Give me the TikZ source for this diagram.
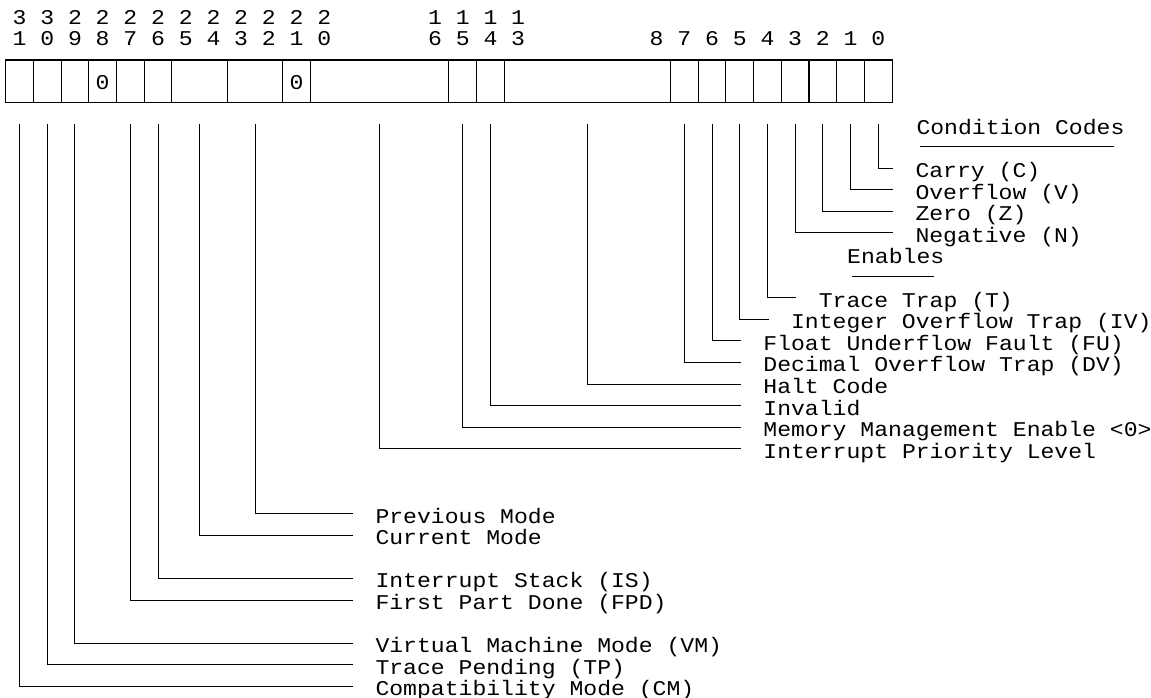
\documentclass[tikz,border=0pt]{standalone}
\usepackage{fontspec}
\setmonofont[FakeStretch=1.1]{Liberation Mono}
\begin{document}
\begin{tikzpicture}[x=1pt,y=-1pt,line width=1pt,
  lbl/.style={inner sep=0pt,text height=19pt,text depth=0pt,anchor=west,font=\ttfamily\fontsize{21}{21}\selectfont},
  dig/.style={lbl,anchor=center},
  lead/.style={line width=1pt},
  boxline/.style={line width=1.1pt}]
\useasboundingbox (0,0) rectangle (1151,698);
% header digits
\foreach \b in {31,30,...,20,16,15,14,13} {
  \pgfmathtruncatemacro\tens{\b/10}
  \pgfmathtruncatemacro\ones{\b-10*\tens}
  \node[dig] (t\b) at ({19.55+27.7*(31-\b)},15) {\tens};
  \node[dig] (o\b) at ({19.55+27.7*(31-\b)},36.5) {\ones};
}
\foreach \b in {8,7,...,0} {
  \node[dig] (o\b) at ({19.55+27.7*(31-\b)},36.5) {\b};
}
% register box
\draw[boxline] (5.7,60) rectangle (892.3,102.7);
\foreach \k in {1,...,6,8,10,11,16,17,18,24,25,...,31} {
  \draw[boxline] ({5.7+27.7*\k},60) -- ({5.7+27.7*\k},102.7);
}
\node[dig] (z28) at ({19.55+27.7*3},79.8) {0};
\node[dig] (z21) at ({19.55+27.7*10},79.8) {0};
% leader start points
\foreach \b in {0,1,...,7,14,15,26,27,29,30,31} {
  \coordinate (f\b) at ({19.55+27.7*(31-\b)},124);
}
\coordinate (fHC) at (587.4,124);
\coordinate (fIPL) at (379.65,124);
\coordinate (fPM) at (255.0,124);
\coordinate (fCUR) at (199.6,124);
% section headings
\node[lbl] (cc) at (916,124.8) {Condition Codes};
\coordinate (cca) at (920,146.4);
\coordinate (ccb) at (1114,146.4);
\draw[lead] (cca) -- (ccb);
\node[lbl] (en) at (846.7,254.4) {Enables};
\coordinate (ena) at (851.7,276);
\coordinate (enb) at (934.3,276);
\draw[lead] (ena) -- (enb);
% labels
\node[lbl] (lC) at (915,168) {Carry (C)};
\node[lbl] (lV) at (915,189.6) {Overflow (V)};
\node[lbl] (lZ) at (915,211.2) {Zero (Z)};
\node[lbl] (lN) at (915,232.8) {Negative (N)};
\node[lbl] (lT) at (818.3,297.6) {Trace Trap (T)};
\node[lbl] (lIV) at (790.6,319.2) {Integer Overflow Trap (IV)};
\node[lbl] (lFU) at (762.9,340.8) {Float Underflow Fault (FU)};
\node[lbl] (lDV) at (762.9,362.4) {Decimal Overflow Trap (DV)};
\node[lbl] (lHC) at (762.9,384) {Halt Code};
\node[lbl] (lIN) at (762.9,405.6) {Invalid};
\node[lbl] (lMM) at (762.9,427.2) {Memory Management Enable <0>};
\node[lbl] (lIP) at (762.9,448.8) {Interrupt Priority Level};
\node[lbl] (lPM) at (375,513.6) {Previous Mode};
\node[lbl] (lCU) at (375,535.2) {Current Mode};
\node[lbl] (lIS) at (375,578.4) {Interrupt Stack (IS)};
\node[lbl] (lFPD) at (375,600) {First Part Done (FPD)};
\node[lbl] (lVM) at (375,643.2) {Virtual Machine Mode (VM)};
\node[lbl] (lTP) at (375,664.8) {Trace Pending (TP)};
\node[lbl] (lCM) at (375,686.4) {Compatibility Mode (CM)};
% leaders
\draw[lead] (f0) |- ([xshift=-22pt]lC.west);
\draw[lead] (f1) |- ([xshift=-22pt]lV.west);
\draw[lead] (f2) |- ([xshift=-22pt]lZ.west);
\draw[lead] (f3) |- ([xshift=-22pt]lN.west);
\draw[lead] (f4) |- ([xshift=-22pt]lT.west);
\draw[lead] (f5) |- ([xshift=-22pt]lIV.west);
\draw[lead] (f6) |- ([xshift=-22pt]lFU.west);
\draw[lead] (f7) |- ([xshift=-22pt]lDV.west);
\draw[lead] (fHC) |- ([xshift=-22pt]lHC.west);
\draw[lead] (f14) |- ([xshift=-22pt]lIN.west);
\draw[lead] (f15) |- ([xshift=-22pt]lMM.west);
\draw[lead] (fIPL) |- ([xshift=-22pt]lIP.west);
\draw[lead] (fPM) |- ([xshift=-22pt]lPM.west);
\draw[lead] (fCUR) |- ([xshift=-22pt]lCU.west);
\draw[lead] (f26) |- ([xshift=-22pt]lIS.west);
\draw[lead] (f27) |- ([xshift=-22pt]lFPD.west);
\draw[lead] (f29) |- ([xshift=-22pt]lVM.west);
\draw[lead] (f30) |- ([xshift=-22pt]lTP.west);
\draw[lead] (f31) |- ([xshift=-22pt]lCM.west);
\end{tikzpicture}
\end{document}
